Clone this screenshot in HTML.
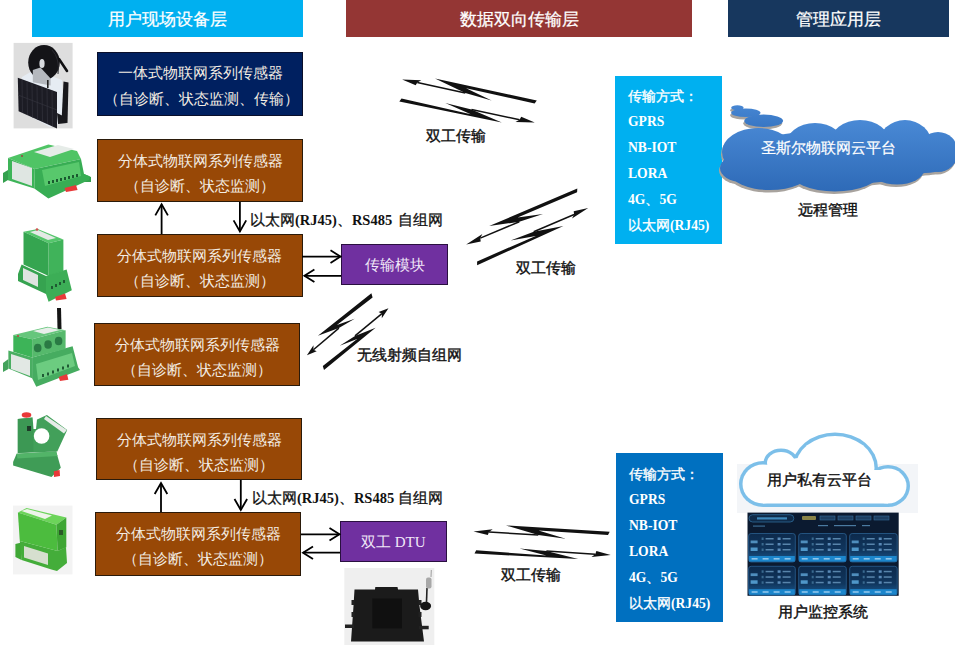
<!DOCTYPE html>
<html><head><meta charset="utf-8">
<style>
*{margin:0;padding:0;box-sizing:border-box}
html,body{width:955px;height:645px;overflow:hidden;background:#fff}
body{position:relative;font-family:"Liberation Sans",sans-serif}
.a{position:absolute}
.hdr{position:absolute;top:0;height:37px;color:#fff;font-size:17px;line-height:39px;text-align:center;-webkit-text-stroke:0.25px #fff}
.box{position:absolute;border:1.5px solid #2a1a0a;color:#f3ece2;font-family:"Liberation Serif",serif;font-size:15px;text-align:center;font-weight:300}
.brown{background:#984806}
.navy{background:#002060;border-color:#0a0f2a}
.purple{background:#7030a0;border-color:#2a1040;color:#f0e8f8;font-family:"Liberation Serif",serif;font-size:15px;text-align:center}
.ln{position:absolute;left:0;right:0;white-space:nowrap;line-height:16px;text-spacing-trim:space-all}
.lbl{position:absolute;white-space:nowrap;color:#111;font-size:14.5px;line-height:16px;-webkit-text-stroke:0.4px #111}
.c{font-family:"Liberation Sans",sans-serif;font-weight:normal;-webkit-text-stroke:0.3px #111}
.cn{font-family:"Liberation Sans",sans-serif;font-weight:normal;font-size:13.8px;-webkit-text-stroke:0.35px #fff}
.lblb{position:absolute;white-space:nowrap;color:#111;font-family:"Liberation Serif",serif;font-weight:bold;font-size:14.5px;line-height:16px;word-spacing:3px}
.panel{position:absolute;color:#fff;font-family:"Liberation Serif",serif;font-weight:bold;font-size:13.6px}
.panel div{position:absolute;left:13px;white-space:nowrap;line-height:14px}
</style></head><body>
<!-- headers -->
<div class="hdr" style="left:32px;width:271px;background:#00b0f0">用户现场设备层</div>
<div class="hdr" style="left:346px;width:346px;background:#943634">数据双向传输层</div>
<div class="hdr" style="left:728px;width:221px;background:#17375e">管理应用层</div>

<!-- boxes -->
<div class="box navy" style="left:97px;top:52px;width:206px;height:63.5px">
  <div class="ln" style="top:12px">一体式物联网系列传感器</div>
  <div class="ln" style="top:38px;text-indent:3px">（自诊断、状态监测、传输）</div>
</div>
<div class="box brown" style="left:97px;top:139px;width:206px;height:63px">
  <div class="ln" style="top:13px">分体式物联网系列传感器</div>
  <div class="ln" style="top:38px">（自诊断、状态监测）</div>
</div>
<div class="box brown" style="left:96.5px;top:234px;width:206px;height:63px">
  <div class="ln" style="top:13px">分体式物联网系列传感器</div>
  <div class="ln" style="top:38px">（自诊断、状态监测）</div>
</div>
<div class="box brown" style="left:94px;top:323px;width:206px;height:63px">
  <div class="ln" style="top:13px">分体式物联网系列传感器</div>
  <div class="ln" style="top:38px">（自诊断、状态监测）</div>
</div>
<div class="box brown" style="left:96px;top:418px;width:206px;height:62px">
  <div class="ln" style="top:13px">分体式物联网系列传感器</div>
  <div class="ln" style="top:38px">（自诊断、状态监测）</div>
</div>
<div class="box brown" style="left:95px;top:512px;width:206px;height:64px">
  <div class="ln" style="top:13px">分体式物联网系列传感器</div>
  <div class="ln" style="top:38px">（自诊断、状态监测）</div>
</div>
<div class="box purple" style="left:341px;top:243.5px;width:107px;height:41px">
  <div class="ln" style="top:12px">传输模块</div>
</div>
<div class="box purple" style="left:340px;top:520.5px;width:106.5px;height:41.5px">
  <div class="ln" style="top:12px">双工 DTU</div>
</div>

<!-- labels -->
<div class="lblb" style="left:250px;top:212px;word-spacing:2px"><span class="c">以太网</span>(RJ45)<span class="c">、</span>RS485 <span class="c">自组网</span></div>
<div class="lblb" style="left:252px;top:490px;word-spacing:0"><span class="c">以太网</span>(RJ45)<span class="c">、</span>RS485 <span class="c">自组网</span></div>
<div class="lbl" style="left:426px;top:128px">双工传输</div>
<div class="lbl" style="left:516px;top:259.5px">双工传输</div>
<div class="lbl" style="left:357px;top:347px">无线射频自组网</div>
<div class="lbl" style="left:501px;top:567px">双工传输</div>
<div class="lbl" style="left:798px;top:202px">远程管理</div>
<div class="lbl" style="left:778px;top:604px">用户监控系统</div>

<!-- panels -->
<div class="panel" style="left:615px;top:76px;width:107px;height:168px;background:#00b0f0">
  <div style="top:13.5px"><span class="cn">传输方式：</span></div>
  <div style="top:39px">GPRS</div>
  <div style="top:65px">NB-IOT</div>
  <div style="top:91px">LORA</div>
  <div style="top:117px">4G<span class="cn">、</span>5G</div>
  <div style="top:143px"><span class="cn">以太网</span>(RJ45)</div>
</div>
<div class="panel" style="left:616px;top:453px;width:107px;height:169px;background:#0070c0">
  <div style="top:14.5px"><span class="cn">传输方式：</span></div>
  <div style="top:40px">GPRS</div>
  <div style="top:66px">NB-IOT</div>
  <div style="top:92px">LORA</div>
  <div style="top:118px">4G<span class="cn">、</span>5G</div>
  <div style="top:144px"><span class="cn">以太网</span>(RJ45)</div>
</div>

<svg class="a" style="left:0;top:0" width="955" height="645" viewBox="0 0 955 645">
<!-- photo 1 solar sensor -->
<rect x="13.6" y="42.9" width="59" height="85.5" fill="#dedede"/>
<polygon points="22,77 34,70 62,80 64,122 50,127 22,112" fill="#e6ecf3"/>
<ellipse cx="44" cy="62.5" rx="15.8" ry="17.5" fill="#141418"/>
<path d="M52 50 Q60 58 58 74" stroke="#2a2a30" stroke-width="1" fill="none"/>
<ellipse cx="42" cy="63.5" rx="2.6" ry="4.6" fill="#d8dadf"/>
<line x1="59" y1="59" x2="67" y2="71" stroke="#101012" stroke-width="2.6" stroke-linecap="round"/>
<polygon points="32.8,69.9 40.5,67.6 50.6,78.4 50.6,85.4 32.8,82.3" fill="#b4b8be"/>
<rect x="47" y="80" width="1.6" height="8" fill="#222"/>
<polygon points="17.8,77.8 57,92 57,128.4 18.6,111.3" fill="#1c1c24"/>
<g stroke="#34343e" stroke-width="0.7">
<line x1="22" y1="80" x2="22.5" y2="113"/><line x1="27" y1="81.5" x2="27.5" y2="115"/>
<line x1="32" y1="83.5" x2="32.5" y2="117.5"/><line x1="37" y1="85.5" x2="37.5" y2="120"/>
<line x1="42" y1="87" x2="42.5" y2="122"/><line x1="47" y1="89" x2="47.5" y2="124"/>
<line x1="52" y1="90.5" x2="52.5" y2="126"/>
<line x1="18" y1="95" x2="57" y2="110"/>
</g>
<polygon points="63.5,81.5 68.5,82.5 67.5,123 61.5,122" fill="#18181c"/>
<polygon points="57,113 63,116 67,123 58,124" fill="#18181c"/>

<!-- photo 2 flat green module -->
<polygon points="3,173 8,170 8,180 3,183" fill="#34a04e"/>
<polygon points="84,174 91,177 91,182 84,182" fill="#34a04e"/>
<polygon points="8,158 48.4,144.5 77,151 81,159 34.8,169" fill="#4fc465"/>
<polygon points="34,152 58,145 74,149 50,157" fill="#e6ece8"/>
<polygon points="8,158 34.8,169 34.3,188.4 8,180.3" fill="#3db458"/>
<polygon points="12,161 32,168 32,186 12,179" fill="#dfe6e2"/>
<polygon points="34.8,169 81,159 84,174 89.7,176.3 89,180 48.4,198.4 34.3,188.4" fill="#38ad54"/>
<polygon points="42,170 79,162 81,176 45,186" fill="#58c86c"/>
<g fill="#1a5a30">
<rect x="48" y="181" width="2" height="3"/><rect x="52" y="180" width="2" height="3"/><rect x="56" y="179" width="2" height="3"/>
<rect x="60" y="178" width="2" height="3"/><rect x="64" y="177" width="2" height="3"/><rect x="68" y="176" width="2" height="3"/>
<rect x="72" y="175" width="2" height="3"/><rect x="76" y="174" width="2" height="3"/>
</g>
<polygon points="64.5,188 76,185 77.6,190 66,192" fill="#e83a3a"/>
<circle cx="22" cy="156" r="1" fill="#a04040"/>

<!-- photo 3 tall green module -->
<polygon points="23.5,231.7 37.7,229 63.4,239.4 48.6,243.2" fill="#55c66c"/>
<polygon points="30,232 38,230 56,238 48,240" fill="#e4eae6"/>
<polygon points="23.5,231.7 48.6,243.2 48.6,276 23.5,264.5" fill="#35a550"/>
<polygon points="48.6,243.2 63.4,239.4 63.4,271 48.6,276" fill="#40b35a"/>
<polygon points="18,274 21.6,264.5 46,276 46,294 18,281" fill="#36a350"/>
<polygon points="23,268 38,275 38,287 23,280" fill="#dfe4e0"/>
<polygon points="46,276 66.6,269.6 71.8,290.2 48.6,301.8 46,294" fill="#3cae56"/>
<g fill="#1e5a32"><rect x="51" y="286" width="2" height="3"/><rect x="55" y="284" width="2" height="3"/><rect x="59" y="282" width="2" height="3"/><rect x="63" y="280" width="2" height="3"/></g>
<polygon points="55,297 65,293.5 66.6,299 56,300.5" fill="#e83a3a"/>
<circle cx="37" cy="229.5" r="1.3" fill="#d05050"/>

<!-- photo 4 3-hole module with antenna -->
<polygon points="57,308 61,308 61.5,329 57.5,329" fill="#151515"/>
<polygon points="3,363 8.4,359 8.4,369 3,372" fill="#44a25c"/>
<polygon points="8.4,350.4 32.1,357.4 32.1,378.3 8.4,368.6" fill="#4aae62"/>
<polygon points="11,354 30,360 30,376 11,369" fill="#e2e8e4"/>
<polygon points="32.1,357.4 72.6,346.3 78.1,367.2 80,370 36.3,386.7 32.1,378.3" fill="#46ac60"/>
<polygon points="36,364 72,353 75,366 38,380" fill="#6ccc80"/>
<g fill="#1f5a34"><rect x="42" y="374" width="2" height="3"/><rect x="47" y="372.5" width="2" height="3"/><rect x="52" y="370.5" width="2" height="3"/><rect x="57" y="368.5" width="2" height="3"/><rect x="62" y="366.5" width="2" height="3"/><rect x="67" y="364.5" width="2" height="3"/></g>
<polygon points="13.3,335 47.4,326.7 65.6,330.2 32.1,339.3" fill="#66c67c"/>
<polygon points="33,331 48,327.5 60,330 44,334" fill="#e8eeea"/>
<polygon points="13.3,335 32.1,339.3 32.1,357.4 13.3,351.8" fill="#3db458"/>
<polygon points="32.1,339.3 65.6,330.2 65.6,349 32.1,357.4" fill="#56b96c"/>
<g fill="#2a7a44"><ellipse cx="37.7" cy="348" rx="3.8" ry="4.3"/><ellipse cx="48.1" cy="344.5" rx="3.8" ry="4.3"/><ellipse cx="58.6" cy="341" rx="3.8" ry="4.3"/></g>
<polygon points="58.6,377 67,374 68.4,379.7 60,381" fill="#e83a3a"/>
<circle cx="18" cy="336" r="1" fill="#c04040"/>

<!-- photo 5 split-core CT -->
<polygon points="13.1,462 16.6,453.8 56.2,451.5 60.8,467.8 51.5,477 13.1,465.5" fill="#3f9c56"/>
<polygon points="16.6,453.8 56.2,451.5 57.5,456 17.5,458.5" fill="#52b468"/>
<polygon points="17.8,419 32.9,417.5 36,420 46.9,414.9 67.2,430 57.3,451.5 17.8,453" fill="#42a05a"/>
<polygon points="17.8,419 32.9,417.5 33.5,452 17.8,453" fill="#3c9854"/>
<polygon points="32.5,416 37,419.5 36,429 33.5,429" fill="#ffffff"/>
<polygon points="46,416 66.8,430 64,433.5 44,419" fill="#e6ece8"/>
<circle cx="41.6" cy="436" r="7.8" fill="#ffffff"/>
<rect x="27" y="426" width="4" height="5" fill="#1e3a28"/>
<ellipse cx="26.5" cy="415" rx="4.8" ry="2.8" fill="#e83838"/>
<polygon points="53.8,471.3 59.6,470 60,476 54,477" fill="#e83838"/>

<!-- photo 6 green box -->
<rect x="13" y="505.6" width="59.5" height="68.8" fill="#f3f3f3"/>
<polygon points="15.4,544 21.6,542.5 21.6,560 15.4,557" fill="#40a836"/>
<polygon points="19.8,541 57.6,551 66,547 67,563 57,571 51.4,569.5 21.6,560" fill="#44ad3a"/>
<polygon points="24,546 48,553.5 48,565 24,557.5" fill="#d6dfcf"/>
<polygon points="17.9,512.4 26.6,508 66.3,517.4 56.4,524.8" fill="#6cd45a"/>
<polygon points="21.5,511 27,509 52,515.5 45,519" fill="#eef4ea"/>
<polygon points="17.9,512.4 56.4,524.8 57.6,551 19.8,541" fill="#4cbc3e"/>
<polygon points="56.4,524.8 66.3,517.4 66.3,547.2 57.6,551" fill="#3ea634"/>
<rect x="59" y="530" width="4" height="5" fill="#2a5a28"/>
<defs>
<linearGradient id="cg" x1="0" y1="118" x2="0" y2="194" gradientUnits="userSpaceOnUse">
<stop offset="0" stop-color="#4a8ad6"/><stop offset="1" stop-color="#2d69b6"/>
</linearGradient>
<linearGradient id="pg" x1="0" y1="100" x2="0" y2="130" gradientUnits="userSpaceOnUse">
<stop offset="0" stop-color="#4a8ad6"/><stop offset="1" stop-color="#3574c2"/>
</linearGradient>
<linearGradient id="cardg" x1="0" y1="0" x2="0" y2="1"><stop offset="0" stop-color="#0d2a4c"/><stop offset="0.6" stop-color="#10365e"/><stop offset="1" stop-color="#1a5a90"/></linearGradient>
</defs>
<!-- cloud 1 shadow -->
<g fill="#a8a39e" transform="translate(-1,2.5)">
<ellipse cx="737.4" cy="107.7" rx="6.2" ry="2.4"/>
<ellipse cx="745.8" cy="112.8" rx="14.7" ry="4.3"/>
<ellipse cx="763.7" cy="120.8" rx="19.4" ry="6.2"/>
<ellipse cx="758" cy="152" rx="36" ry="24"/>
<ellipse cx="815" cy="147" rx="30" ry="24"/>
<ellipse cx="860" cy="143" rx="30" ry="23"/>
<ellipse cx="905" cy="145" rx="27" ry="25"/>
<ellipse cx="938" cy="152" rx="20" ry="20"/>
<ellipse cx="925" cy="160" rx="26" ry="13"/>
<ellipse cx="897" cy="170" rx="27" ry="14.5"/>
<ellipse cx="835" cy="172" rx="45" ry="19.5"/>
<ellipse cx="770" cy="172" rx="40" ry="18"/>
<ellipse cx="742" cy="168" rx="22" ry="14"/>
<ellipse cx="840" cy="157" rx="105" ry="27"/>
</g>
<g fill="url(#cg)">
<ellipse cx="737.4" cy="107.7" rx="6.2" ry="2.4" fill="url(#pg)"/>
<ellipse cx="745.8" cy="112.8" rx="14.7" ry="4.3" fill="url(#pg)"/>
<ellipse cx="763.7" cy="120.8" rx="19.4" ry="6.2" fill="url(#pg)"/>
<ellipse cx="758" cy="152" rx="36" ry="24"/>
<ellipse cx="815" cy="147" rx="30" ry="24"/>
<ellipse cx="860" cy="143" rx="30" ry="23"/>
<ellipse cx="905" cy="145" rx="27" ry="25"/>
<ellipse cx="938" cy="152" rx="20" ry="20"/>
<ellipse cx="925" cy="160" rx="26" ry="13"/>
<ellipse cx="897" cy="170" rx="27" ry="14.5"/>
<ellipse cx="835" cy="172" rx="45" ry="19.5"/>
<ellipse cx="770" cy="172" rx="40" ry="18"/>
<ellipse cx="742" cy="168" rx="22" ry="14"/>
<ellipse cx="840" cy="157" rx="105" ry="27"/>
</g>
<!-- cloud 2 outline -->
<rect x="737" y="464" width="181" height="49" fill="#f3f5f8"/>
<g fill="#7cbfe9">
<ellipse cx="763" cy="484" rx="24" ry="23"/>
<ellipse cx="781" cy="463" rx="17.5" ry="14.5"/>
<ellipse cx="835" cy="468" rx="43" ry="35.5"/>
<ellipse cx="888" cy="486" rx="22" ry="21"/>
<rect x="763" y="470" width="125" height="37"/>
</g>
<g fill="#fff">
<ellipse cx="763" cy="484" rx="20.5" ry="19.5"/>
<ellipse cx="781" cy="463" rx="14" ry="11"/>
<ellipse cx="835" cy="468" rx="39.5" ry="32"/>
<ellipse cx="888" cy="486" rx="18.5" ry="17.5"/>
<ellipse cx="800" cy="470" rx="20" ry="12"/>
<rect x="763" y="470" width="125" height="33.5"/>
</g>
<!-- monitor -->
<rect x="747.5" y="512.6" width="151.2" height="83.2" fill="#0b1a30"/>
<rect x="749" y="514.7" width="44.8" height="7.3" rx="3.6" fill="#0f2a48" stroke="#2f6a98" stroke-width="0.8"/>
<rect x="757" y="517.3" width="30" height="2.2" fill="#4aa0d8" opacity="0.8"/>
<rect x="753" y="525.5" width="12" height="1.2" fill="#3a6a90"/>
<rect x="802" y="516" width="14" height="4" rx="1" fill="#8a8448"/>
<rect x="820" y="516" width="15" height="4" fill="#1d3f62" stroke="#356a98" stroke-width="0.6"/>
<rect x="838" y="516" width="15" height="4" fill="#1d3f62" stroke="#356a98" stroke-width="0.6"/>
<rect x="856" y="516" width="15" height="4" fill="#1d3f62" stroke="#356a98" stroke-width="0.6"/>
<rect x="874" y="516" width="15" height="4" fill="#1d3f62" stroke="#356a98" stroke-width="0.6"/>
<rect x="818" y="525" width="10" height="1.2" fill="#4a7aa0"/><rect x="834" y="525" width="22" height="1.2" fill="#4a7aa0"/><rect x="862" y="525" width="8" height="1.2" fill="#4a7aa0"/>
<rect x="748.6" y="533.5" width="46.7" height="28.5" rx="2.5" fill="url(#cardg)" stroke="#2a6090" stroke-width="0.8"/>
<rect x="749.1" y="556.0" width="45.7" height="5.5" fill="#1c86cc"/>
<rect x="750.6" y="540.5" width="7" height="2.8" fill="#5a9fd0" opacity="0.85"/>
<rect x="750.6" y="547.5" width="7" height="3.5" fill="#5aa8dc" opacity="0.85"/>
<rect x="761.6" y="537.5" width="2" height="2.5" fill="#3a6a90"/>
<rect x="765.6" y="538.0" width="8" height="1.5" fill="#6a9ac0" opacity="0.8"/>
<rect x="777.6" y="537.5" width="3" height="2.5" fill="#5a8ab8"/>
<rect x="782.6" y="538.0" width="8" height="1.5" fill="#6a9ac0" opacity="0.8"/>
<rect x="761.6" y="543.0" width="2" height="2.5" fill="#3a6a90"/>
<rect x="765.6" y="543.5" width="8" height="1.5" fill="#6a9ac0" opacity="0.8"/>
<rect x="777.6" y="543.0" width="3" height="2.5" fill="#5a8ab8"/>
<rect x="782.6" y="543.5" width="8" height="1.5" fill="#6a9ac0" opacity="0.8"/>
<rect x="761.6" y="548.5" width="2" height="2.5" fill="#3a6a90"/>
<rect x="765.6" y="549.0" width="8" height="1.5" fill="#6a9ac0" opacity="0.8"/>
<rect x="777.6" y="548.5" width="3" height="2.5" fill="#5a8ab8"/>
<rect x="782.6" y="549.0" width="8" height="1.5" fill="#6a9ac0" opacity="0.8"/>
<rect x="751.6" y="558.0" width="6" height="1.6" fill="#bfe0f8" opacity="0.7"/>
<rect x="762.6" y="558.0" width="6" height="1.6" fill="#bfe0f8" opacity="0.7"/>
<rect x="773.6" y="558.0" width="6" height="1.6" fill="#bfe0f8" opacity="0.7"/>
<rect x="784.6" y="558.0" width="6" height="1.6" fill="#bfe0f8" opacity="0.7"/>
<rect x="798.7" y="533.5" width="47.6" height="28.5" rx="2.5" fill="url(#cardg)" stroke="#2a6090" stroke-width="0.8"/>
<rect x="799.2" y="556.0" width="46.6" height="5.5" fill="#1c86cc"/>
<rect x="800.7" y="540.5" width="7" height="2.8" fill="#5a9fd0" opacity="0.85"/>
<rect x="800.7" y="547.5" width="7" height="3.5" fill="#5aa8dc" opacity="0.85"/>
<rect x="811.7" y="537.5" width="2" height="2.5" fill="#3a6a90"/>
<rect x="815.7" y="538.0" width="8" height="1.5" fill="#6a9ac0" opacity="0.8"/>
<rect x="827.7" y="537.5" width="3" height="2.5" fill="#5a8ab8"/>
<rect x="832.7" y="538.0" width="8" height="1.5" fill="#6a9ac0" opacity="0.8"/>
<rect x="811.7" y="543.0" width="2" height="2.5" fill="#3a6a90"/>
<rect x="815.7" y="543.5" width="8" height="1.5" fill="#6a9ac0" opacity="0.8"/>
<rect x="827.7" y="543.0" width="3" height="2.5" fill="#5a8ab8"/>
<rect x="832.7" y="543.5" width="8" height="1.5" fill="#6a9ac0" opacity="0.8"/>
<rect x="811.7" y="548.5" width="2" height="2.5" fill="#3a6a90"/>
<rect x="815.7" y="549.0" width="8" height="1.5" fill="#6a9ac0" opacity="0.8"/>
<rect x="827.7" y="548.5" width="3" height="2.5" fill="#5a8ab8"/>
<rect x="832.7" y="549.0" width="8" height="1.5" fill="#6a9ac0" opacity="0.8"/>
<rect x="801.7" y="558.0" width="6" height="1.6" fill="#bfe0f8" opacity="0.7"/>
<rect x="812.7" y="558.0" width="6" height="1.6" fill="#bfe0f8" opacity="0.7"/>
<rect x="823.7" y="558.0" width="6" height="1.6" fill="#bfe0f8" opacity="0.7"/>
<rect x="834.7" y="558.0" width="6" height="1.6" fill="#bfe0f8" opacity="0.7"/>
<rect x="849.7" y="533.5" width="47.5" height="28.5" rx="2.5" fill="url(#cardg)" stroke="#2a6090" stroke-width="0.8"/>
<rect x="850.2" y="556.0" width="46.5" height="5.5" fill="#1c86cc"/>
<rect x="851.7" y="540.5" width="7" height="2.8" fill="#5a9fd0" opacity="0.85"/>
<rect x="851.7" y="547.5" width="7" height="3.5" fill="#5aa8dc" opacity="0.85"/>
<rect x="862.7" y="537.5" width="2" height="2.5" fill="#3a6a90"/>
<rect x="866.7" y="538.0" width="8" height="1.5" fill="#6a9ac0" opacity="0.8"/>
<rect x="878.7" y="537.5" width="3" height="2.5" fill="#5a8ab8"/>
<rect x="883.7" y="538.0" width="8" height="1.5" fill="#6a9ac0" opacity="0.8"/>
<rect x="862.7" y="543.0" width="2" height="2.5" fill="#3a6a90"/>
<rect x="866.7" y="543.5" width="8" height="1.5" fill="#6a9ac0" opacity="0.8"/>
<rect x="878.7" y="543.0" width="3" height="2.5" fill="#5a8ab8"/>
<rect x="883.7" y="543.5" width="8" height="1.5" fill="#6a9ac0" opacity="0.8"/>
<rect x="862.7" y="548.5" width="2" height="2.5" fill="#3a6a90"/>
<rect x="866.7" y="549.0" width="8" height="1.5" fill="#6a9ac0" opacity="0.8"/>
<rect x="878.7" y="548.5" width="3" height="2.5" fill="#5a8ab8"/>
<rect x="883.7" y="549.0" width="8" height="1.5" fill="#6a9ac0" opacity="0.8"/>
<rect x="852.7" y="558.0" width="6" height="1.6" fill="#bfe0f8" opacity="0.7"/>
<rect x="863.7" y="558.0" width="6" height="1.6" fill="#bfe0f8" opacity="0.7"/>
<rect x="874.7" y="558.0" width="6" height="1.6" fill="#bfe0f8" opacity="0.7"/>
<rect x="885.7" y="558.0" width="6" height="1.6" fill="#bfe0f8" opacity="0.7"/>
<rect x="748.6" y="566.3" width="46.7" height="28.9" rx="2.5" fill="url(#cardg)" stroke="#2a6090" stroke-width="0.8"/>
<rect x="749.1" y="589.1999999999999" width="45.7" height="5.5" fill="#1c86cc"/>
<rect x="750.6" y="573.3" width="7" height="2.8" fill="#5a9fd0" opacity="0.85"/>
<rect x="750.6" y="580.3" width="7" height="3.5" fill="#5aa8dc" opacity="0.85"/>
<rect x="761.6" y="570.3" width="2" height="2.5" fill="#3a6a90"/>
<rect x="765.6" y="570.8" width="8" height="1.5" fill="#6a9ac0" opacity="0.8"/>
<rect x="777.6" y="570.3" width="3" height="2.5" fill="#5a8ab8"/>
<rect x="782.6" y="570.8" width="8" height="1.5" fill="#6a9ac0" opacity="0.8"/>
<rect x="761.6" y="575.8" width="2" height="2.5" fill="#3a6a90"/>
<rect x="765.6" y="576.3" width="8" height="1.5" fill="#6a9ac0" opacity="0.8"/>
<rect x="777.6" y="575.8" width="3" height="2.5" fill="#5a8ab8"/>
<rect x="782.6" y="576.3" width="8" height="1.5" fill="#6a9ac0" opacity="0.8"/>
<rect x="761.6" y="581.3" width="2" height="2.5" fill="#3a6a90"/>
<rect x="765.6" y="581.8" width="8" height="1.5" fill="#6a9ac0" opacity="0.8"/>
<rect x="777.6" y="581.3" width="3" height="2.5" fill="#5a8ab8"/>
<rect x="782.6" y="581.8" width="8" height="1.5" fill="#6a9ac0" opacity="0.8"/>
<rect x="751.6" y="591.1999999999999" width="6" height="1.6" fill="#bfe0f8" opacity="0.7"/>
<rect x="762.6" y="591.1999999999999" width="6" height="1.6" fill="#bfe0f8" opacity="0.7"/>
<rect x="773.6" y="591.1999999999999" width="6" height="1.6" fill="#bfe0f8" opacity="0.7"/>
<rect x="784.6" y="591.1999999999999" width="6" height="1.6" fill="#bfe0f8" opacity="0.7"/>
<rect x="798.7" y="566.3" width="47.6" height="28.9" rx="2.5" fill="url(#cardg)" stroke="#2a6090" stroke-width="0.8"/>
<rect x="799.2" y="589.1999999999999" width="46.6" height="5.5" fill="#1c86cc"/>
<rect x="800.7" y="573.3" width="7" height="2.8" fill="#5a9fd0" opacity="0.85"/>
<rect x="800.7" y="580.3" width="7" height="3.5" fill="#5aa8dc" opacity="0.85"/>
<rect x="811.7" y="570.3" width="2" height="2.5" fill="#3a6a90"/>
<rect x="815.7" y="570.8" width="8" height="1.5" fill="#6a9ac0" opacity="0.8"/>
<rect x="827.7" y="570.3" width="3" height="2.5" fill="#5a8ab8"/>
<rect x="832.7" y="570.8" width="8" height="1.5" fill="#6a9ac0" opacity="0.8"/>
<rect x="811.7" y="575.8" width="2" height="2.5" fill="#3a6a90"/>
<rect x="815.7" y="576.3" width="8" height="1.5" fill="#6a9ac0" opacity="0.8"/>
<rect x="827.7" y="575.8" width="3" height="2.5" fill="#5a8ab8"/>
<rect x="832.7" y="576.3" width="8" height="1.5" fill="#6a9ac0" opacity="0.8"/>
<rect x="811.7" y="581.3" width="2" height="2.5" fill="#3a6a90"/>
<rect x="815.7" y="581.8" width="8" height="1.5" fill="#6a9ac0" opacity="0.8"/>
<rect x="827.7" y="581.3" width="3" height="2.5" fill="#5a8ab8"/>
<rect x="832.7" y="581.8" width="8" height="1.5" fill="#6a9ac0" opacity="0.8"/>
<rect x="801.7" y="591.1999999999999" width="6" height="1.6" fill="#bfe0f8" opacity="0.7"/>
<rect x="812.7" y="591.1999999999999" width="6" height="1.6" fill="#bfe0f8" opacity="0.7"/>
<rect x="823.7" y="591.1999999999999" width="6" height="1.6" fill="#bfe0f8" opacity="0.7"/>
<rect x="834.7" y="591.1999999999999" width="6" height="1.6" fill="#bfe0f8" opacity="0.7"/>
<rect x="849.7" y="566.3" width="47.5" height="28.9" rx="2.5" fill="url(#cardg)" stroke="#2a6090" stroke-width="0.8"/>
<rect x="850.2" y="589.1999999999999" width="46.5" height="5.5" fill="#1c86cc"/>
<rect x="851.7" y="573.3" width="7" height="2.8" fill="#5a9fd0" opacity="0.85"/>
<rect x="851.7" y="580.3" width="7" height="3.5" fill="#5aa8dc" opacity="0.85"/>
<rect x="862.7" y="570.3" width="2" height="2.5" fill="#3a6a90"/>
<rect x="866.7" y="570.8" width="8" height="1.5" fill="#6a9ac0" opacity="0.8"/>
<rect x="878.7" y="570.3" width="3" height="2.5" fill="#5a8ab8"/>
<rect x="883.7" y="570.8" width="8" height="1.5" fill="#6a9ac0" opacity="0.8"/>
<rect x="862.7" y="575.8" width="2" height="2.5" fill="#3a6a90"/>
<rect x="866.7" y="576.3" width="8" height="1.5" fill="#6a9ac0" opacity="0.8"/>
<rect x="878.7" y="575.8" width="3" height="2.5" fill="#5a8ab8"/>
<rect x="883.7" y="576.3" width="8" height="1.5" fill="#6a9ac0" opacity="0.8"/>
<rect x="862.7" y="581.3" width="2" height="2.5" fill="#3a6a90"/>
<rect x="866.7" y="581.8" width="8" height="1.5" fill="#6a9ac0" opacity="0.8"/>
<rect x="878.7" y="581.3" width="3" height="2.5" fill="#5a8ab8"/>
<rect x="883.7" y="581.8" width="8" height="1.5" fill="#6a9ac0" opacity="0.8"/>
<rect x="852.7" y="591.1999999999999" width="6" height="1.6" fill="#bfe0f8" opacity="0.7"/>
<rect x="863.7" y="591.1999999999999" width="6" height="1.6" fill="#bfe0f8" opacity="0.7"/>
<rect x="874.7" y="591.1999999999999" width="6" height="1.6" fill="#bfe0f8" opacity="0.7"/>
<rect x="885.7" y="591.1999999999999" width="6" height="1.6" fill="#bfe0f8" opacity="0.7"/>

<!-- DTU photo -->
<rect x="344.3" y="568" width="90" height="77" fill="#efefef"/>
<path d="M354.5 589.5 L375 589.5 L375.3 587 L397.5 587 L398 589.5 L418 589.5 L419.5 606 L424 641.5 L351 641.5 L353.5 606 Z" fill="#1b1b1b"/>
<rect x="372.3" y="598.5" width="29.7" height="29.8" fill="#101010"/>
<rect x="345" y="624.5" width="9" height="3.5" fill="#222"/>
<rect x="419" y="625.8" width="9.7" height="3.5" fill="#222"/>
<rect x="351.5" y="600" width="3" height="5" fill="#222"/><rect x="351.5" y="612" width="3" height="5" fill="#222"/>
<rect x="418.5" y="600" width="3" height="5" fill="#222"/><rect x="418.5" y="612" width="3" height="5" fill="#222"/>
<ellipse cx="425.6" cy="606" rx="5.5" ry="4.2" fill="#151515"/>
<line x1="426.5" y1="602" x2="427" y2="588" stroke="#222" stroke-width="1.6"/>
<rect x="426" y="577.5" width="5.5" height="11" rx="2" fill="#a8a8a8"/>
<line x1="431" y1="577" x2="431.3" y2="570" stroke="#888" stroke-width="0.8"/>

<g fill="#111">
<polygon points="435.0,78.6 536.8,100.5 534.6,103.5 466.1,88.3 491.6,100.6 465.3,92.9"/>
<line x1="417.3" y1="82.4" x2="465.3" y2="92.9" stroke="#111" stroke-width="1.5"/>
<polygon points="402.1,79.4 421.3,80.3 417.3,82.4 415.7,85.3"/>
<polygon points="501.8,122.6 399.3,101.5 401.5,98.5 470.8,114.2 445.3,103.0 471.5,109.6"/>
<line x1="519.6" y1="119.8" x2="471.5" y2="109.6" stroke="#111" stroke-width="1.5"/>
<polygon points="534.8,122.6 515.5,121.9 519.6,119.8 521.2,116.8"/>
<polygon points="489.2,226.0 577.3,188.6 577.1,192.3 517.6,217.5 543.0,214.1 519.3,221.8"/>
<line x1="480.3" y1="238.1" x2="519.3" y2="221.8" stroke="#111" stroke-width="1.5"/>
<polygon points="466.2,244.5 482.4,234.1 480.3,238.1 480.7,241.5"/>
<polygon points="563.4,226.0 477.1,265.2 477.1,261.4 535.7,235.9 510.6,240.6 533.7,231.7"/>
<line x1="574.1" y1="214.5" x2="533.7" y2="231.7" stroke="#111" stroke-width="1.5"/>
<polygon points="588.2,208.1 572.0,218.6 574.1,214.5 573.7,211.2"/>
<polygon points="317.9,335.7 371.4,293.3 372.6,297.4 336.9,325.0 354.7,318.8 338.9,328.1"/>
<line x1="313.4" y1="349.7" x2="338.9" y2="328.1" stroke="#111" stroke-width="1.5"/>
<polygon points="306.9,355.2 313.5,345.2 313.4,349.7 316.7,351.3"/>
<polygon points="375.6,327.8 324.0,370.1 322.8,366.0 357.1,339.0 339.7,345.7 355.0,335.9"/>
<line x1="381.9" y1="313.7" x2="355.0" y2="335.9" stroke="#111" stroke-width="1.5"/>
<polygon points="388.5,308.3 381.8,318.2 381.9,313.7 378.6,312.0"/>
<polygon points="506.0,525.5 609.7,531.8 608.0,535.1 538.5,530.4 565.7,538.7 538.3,535.1"/>
<line x1="489.0" y1="532.0" x2="538.3" y2="535.1" stroke="#111" stroke-width="1.5"/>
<polygon points="473.5,531.4 492.7,529.3 489.0,532.0 487.8,535.1"/>
<polygon points="578.2,559.0 474.5,553.6 476.2,550.3 546.4,555.6 519.6,548.6 546.4,550.9"/>
<line x1="595.2" y1="554.2" x2="546.4" y2="550.9" stroke="#111" stroke-width="1.5"/>
<polygon points="610.7,554.9 591.5,556.9 595.2,554.2 596.4,551.1"/>
<line x1="161.6" y1="234" x2="161.6" y2="204.4" stroke="#000" stroke-width="1.8"/><polyline points="167.9,215.4 161.6,204.4 155.3,215.4" fill="none" stroke="#000" stroke-width="1.8" stroke-linejoin="miter"/>
<line x1="239.9" y1="202" x2="239.9" y2="231.4" stroke="#000" stroke-width="1.8"/><polyline points="233.6,220.4 239.9,231.4 246.2,220.4" fill="none" stroke="#000" stroke-width="1.8" stroke-linejoin="miter"/>
<line x1="302" y1="256.6" x2="340.5" y2="256.6" stroke="#000" stroke-width="1.8"/><polyline points="330.5,262.9 340.5,256.6 330.5,250.3" fill="none" stroke="#000" stroke-width="1.8" stroke-linejoin="miter"/>
<line x1="341" y1="275.8" x2="304.4" y2="275.8" stroke="#000" stroke-width="1.8"/><polyline points="314.4,269.5 304.4,275.8 314.4,282.1" fill="none" stroke="#000" stroke-width="1.8" stroke-linejoin="miter"/>
<line x1="161" y1="512" x2="161" y2="483" stroke="#000" stroke-width="1.8"/><polyline points="167.3,494.0 161.0,483.0 154.7,494.0" fill="none" stroke="#000" stroke-width="1.8" stroke-linejoin="miter"/>
<line x1="240.8" y1="480" x2="240.8" y2="510" stroke="#000" stroke-width="1.8"/><polyline points="234.5,499.0 240.8,510.0 247.1,499.0" fill="none" stroke="#000" stroke-width="1.8" stroke-linejoin="miter"/>
<line x1="301" y1="534.3" x2="339.5" y2="534.3" stroke="#000" stroke-width="1.8"/><polyline points="329.5,540.6 339.5,534.3 329.5,528.0" fill="none" stroke="#000" stroke-width="1.8" stroke-linejoin="miter"/>
<line x1="340" y1="552.7" x2="303" y2="552.7" stroke="#000" stroke-width="1.8"/><polyline points="313.0,546.4 303.0,552.7 313.0,559.0" fill="none" stroke="#000" stroke-width="1.8" stroke-linejoin="miter"/>
</g>
</svg>
<div class="lbl" style="left:761px;top:140px;color:#fff;-webkit-text-stroke:0.2px #fff">圣斯尔物联网云平台</div>
<div class="lbl" style="left:767px;top:472px">用户私有云平台</div>
</body></html>
